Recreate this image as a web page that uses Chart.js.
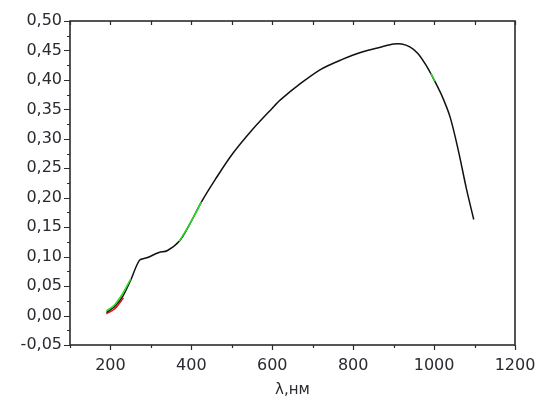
<!DOCTYPE html>
<html>
<head>
<meta charset="utf-8">
<script src="https://cdn.jsdelivr.net/npm/chart.js@4.4.1/dist/chart.umd.min.js"></script>
<style>
  html, body { margin: 0; padding: 0; background: #fff; }
  #wrap { width: 539px; height: 398px; position: relative; }
</style>
</head>
<body>
<div id="wrap"><canvas id="spectrum"></canvas></div>
<script>
/* DATA */
const wavelengths = [190, 210, 230, 250, 272, 290, 320, 340, 370, 395, 425, 460, 500, 550, 600, 620, 670, 720, 770, 820, 870, 900, 920, 940, 960, 980, 1000, 1020, 1040, 1060, 1080, 1098];
const absorbance  = [0.005, 0.015, 0.032, 0.060, 0.094, 0.098, 0.107, 0.110, 0.126, 0.154, 0.193, 0.232, 0.273, 0.315, 0.352, 0.366, 0.394, 0.418, 0.434, 0.447, 0.456, 0.461, 0.461, 0.456, 0.445, 0.425, 0.400, 0.372, 0.336, 0.280, 0.215, 0.163];

const greenWl  = [190, 210, 230, 250, null, 370, 395, 425, null, 992, 1002];
const greenAbs = [0.008, 0.018, 0.037, 0.062, null, 0.126, 0.154, 0.193, null, 0.411, 0.398];

const redWl  = [190, 210, 232];
const redAbs = [0.003, 0.011, 0.030];

const xTicks = [200, 400, 600, 800, 1000, 1200];
const yTicks = [-0.05, 0, 0.05, 0.10, 0.15, 0.20, 0.25, 0.30, 0.35, 0.40, 0.45, 0.50];

const xTitle = "λ,нм";

const INK = "#2a2a30";
const FONT = "'DejaVu Sans', sans-serif";

function toPoints(xs, ys) {
    return xs.map((x, i) => (x === null ? { x: NaN, y: NaN } : { x: x, y: ys[i] }));
}

/* FRAME + MINOR TICKS */
const framePlugin = {
    id: "frame",
    afterDraw(chart) {
        const ctx = chart.ctx;
        const a = chart.chartArea;
        const xs = chart.scales.x;
        const ys = chart.scales.y;

        ctx.save();
        ctx.strokeStyle = INK;
        ctx.lineWidth = 1.6;
        ctx.strokeRect(a.left, a.top, a.right - a.left, a.bottom - a.top);

        ctx.lineWidth = 1.2;
        ctx.beginPath();
        // bottom: major + minor outward, top: inward every 100
        for (let v = 100; v <= 1200; v += 100) {
            const px = Math.round(xs.getPixelForValue(v)) + 0.5;
            const major = xTicks.includes(v);
            ctx.moveTo(px, a.bottom);
            ctx.lineTo(px, a.bottom + (major ? 5 : 3));
            ctx.moveTo(px, a.top);
            ctx.lineTo(px, a.top + 4);
        }
        // left: major + minor outward
        for (let i = -2; i <= 20; i++) {
            const v = i * 0.025;
            const py = Math.round(ys.getPixelForValue(v)) + 0.5;
            const major = i % 2 === 0;
            ctx.moveTo(a.left, py);
            ctx.lineTo(a.left - (major ? 6 : 3), py);
        }
        ctx.stroke();
        ctx.restore();
    }
};

function drawChart() {
    const ctx = document.getElementById("spectrum").getContext("2d");

    new Chart(ctx, {
        type: "line",
        data: {
            datasets: [
                {
                    data: toPoints(wavelengths, absorbance),
                    borderColor: "#111",
                    borderWidth: 1.5,
                    pointRadius: 0,
                    tension: 0.3,
                    order: 3
                },
                {
                    data: toPoints(greenWl, greenAbs),
                    borderColor: "#22dd22",
                    borderWidth: 1.5,
                    pointRadius: 0,
                    tension: 0.3,
                    spanGaps: false,
                    order: 2
                },
                {
                    data: toPoints(redWl, redAbs),
                    borderColor: "#e01010",
                    borderWidth: 1.5,
                    pointRadius: 0,
                    tension: 0.3,
                    order: 1
                }
            ]
        },
        options: {
            responsive: true,
            maintainAspectRatio: false,
            animation: false,
            layout: { padding: { left: 0, right: 0, top: 21, bottom: 0 } },
            plugins: {
                legend: { display: false },
                tooltip: { enabled: false }
            },
            scales: {
                x: {
                    type: "linear",
                    min: 100,
                    max: 1200,
                    afterBuildTicks: s => { s.ticks = xTicks.map(v => ({ value: v })); },
                    afterFit: s => { s.height = 53; s.paddingRight = 24; },
                    grid: { display: false, drawTicks: false },
                    border: { display: false },
                    ticks: {
                        padding: 11,
                        color: INK,
                        font: { family: FONT, size: 16 },
                        maxRotation: 0,
                        callback: v => String(v)
                    },
                    title: {
                        display: true,
                        text: xTitle,
                        color: INK,
                        font: { family: FONT, size: 15, lineHeight: 1 },
                        padding: { top: 10, bottom: 0 }
                    }
                },
                y: {
                    type: "linear",
                    min: -0.05,
                    max: 0.5,
                    afterBuildTicks: s => { s.ticks = yTicks.map(v => ({ value: v })); },
                    afterFit: s => { s.width = 70; },
                    grid: { display: false, drawTicks: false },
                    border: { display: false },
                    ticks: {
                        padding: 8,
                        color: INK,
                        font: { family: FONT, size: 16 },
                        callback: v => v.toFixed(2).replace(".", ",")
                    }
                }
            }
        },
        plugins: [framePlugin]
    });
}

document.addEventListener("DOMContentLoaded", drawChart);
</script>
</body>
</html>
